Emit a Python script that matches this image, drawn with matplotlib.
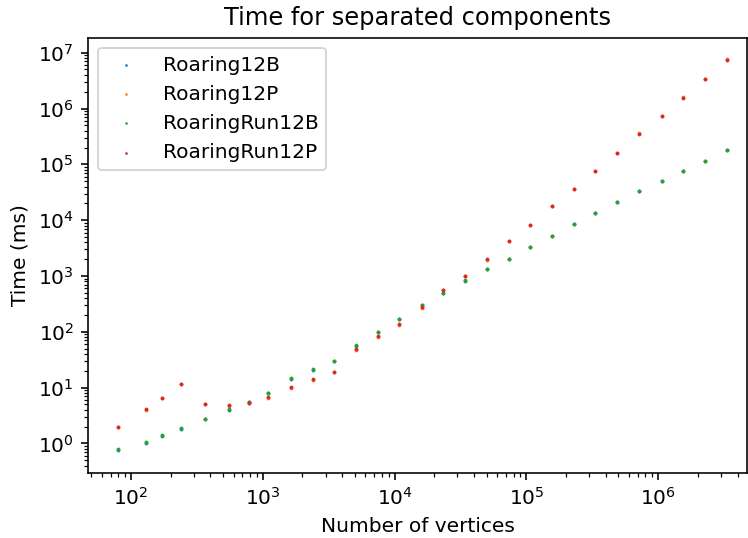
import numpy as np
import matplotlib
matplotlib.use("Agg")
import matplotlib.pyplot as plt

# number of vertices per test graph
vertices = [80, 129, 173, 240, 363, 552, 791, 1097, 1640, 2397, 3478, 5109,
            7468, 10800, 16030, 23310, 34420, 50300, 73400, 106500, 156400,
            229800, 334200, 491000, 721000, 1061000, 1548000, 2275000, 3323000]

# time in ms
roaring12b = [0.76, 1.04, 1.36, 1.80, 2.70, 4.0, 5.6, 8.1, 14.2, 21.0, 29.5, 56,
              98, 168, 298, 505, 830, 1320, 2020, 3320, 5230, 8450, 13200,
              20800, 33000, 50500, 75500, 114000, 179000]
roaring12p = [1.96, 4.05, 6.5, 11.4, 5.0, 4.6, 5.4, 6.5, 9.8, 13.6, 18.8, 47,
              81, 134, 272, 560, 990, 1960, 4200, 8150, 18100, 36800, 75500,
              160000, 360000, 735000, 1580000, 3400000, 7600000]
roaringrun12b = [0.80, 1.08, 1.40, 1.86, 2.74, 4.1, 5.5, 8.1, 14.6, 21.5, 29.9, 57,
                 100, 171, 301, 500, 834, 1330, 2034, 3336, 5250, 8510, 13400,
                 21100, 33200, 50800, 75900, 114600, 180300]
roaringrun12p = [1.96, 4.07, 6.5, 11.4, 5.1, 4.8, 5.3, 6.7, 10.2, 14.0, 19.0, 49,
                 83, 136, 277, 566, 996, 1983, 4220, 8170, 18100, 36550, 75000,
                 157500, 345000, 734000, 1560000, 3340000, 7400000]

series = [
    ("Roaring12B", roaring12b),
    ("Roaring12P", roaring12p),
    ("RoaringRun12B", roaringrun12b),
    ("RoaringRun12P", roaringrun12p),
]

DPI = 145
fig, ax = plt.subplots(figsize=(748 / DPI, 538 / DPI), dpi=DPI)
fig.subplots_adjust(left=88 / 748, right=747 / 748, top=1 - 37.5 / 538, bottom=1 - 472.5 / 538)

for name, vals in series:
    ax.scatter(vertices, vals, s=2.5, linewidths=0.3, label=name)

ax.set_xscale("log")
ax.set_yscale("log")
ax.set_xlim(47.2, 4.72e6)
ax.set_ylim(0.302, 1.87e7)
ax.set_title("Time for separated components")
ax.set_xlabel("Number of vertices")
ax.set_ylabel("Time (ms)")
ax.legend(loc="upper left", markerscale=0.6)

fig.savefig("out.png", dpi=DPI)
